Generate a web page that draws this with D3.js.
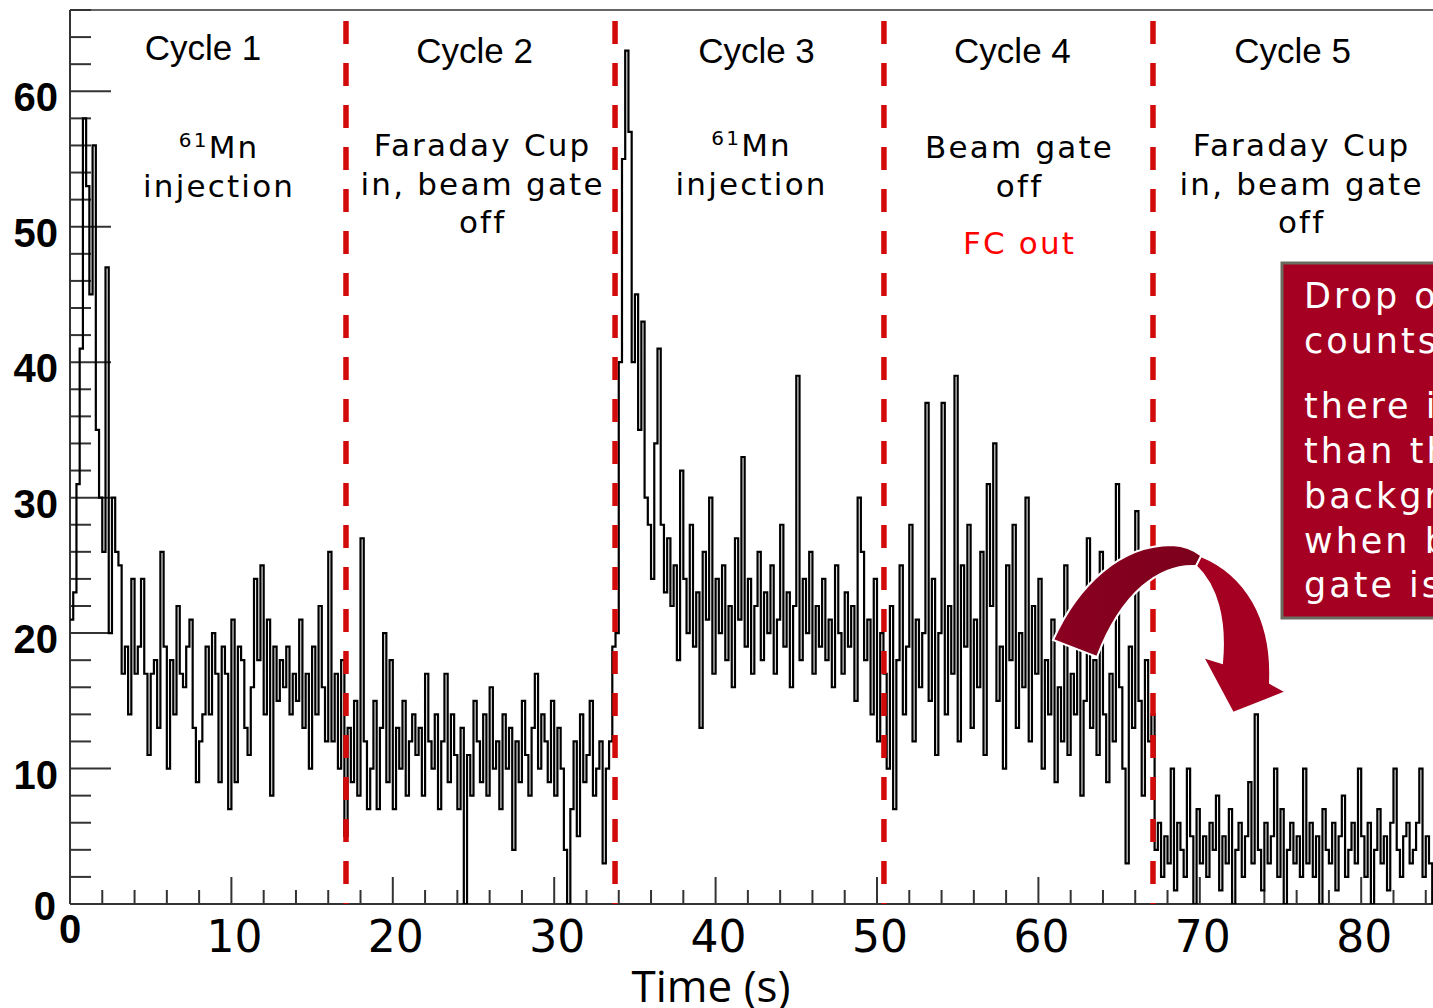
<!DOCTYPE html>
<html>
<head>
<meta charset="utf-8">
<script src="https://cdn.jsdelivr.net/npm/d3@7/dist/d3.min.js"></script>
<style>
  html, body { margin: 0; padding: 0; background: #ffffff; }
  svg { display: block; }
</style>
</head>
<body>
<svg id="chart" width="1433" height="1008"></svg>
<script>
// ---------------- DATA ----------------
const binWidth = 0.2; // seconds per histogram bin

// counts per 0.2 s bin, cycle by cycle
const cycle1Counts = [21, 23, 31, 41, 58, 53, 45, 56, 35, 30, 26, 47, 20, 30, 26, 25,
  17, 19, 14, 24, 17, 19, 24, 17, 11, 17, 18, 13, 26, 19, 10, 18,
  14, 22, 17, 16, 19, 21, 13, 9, 12, 14, 19, 14, 20, 17, 9, 19,
  17, 7, 21, 9, 19, 18, 13, 11, 16, 24, 18, 25, 14, 21, 8, 19,
  15, 18, 16, 19, 14, 17, 15, 21, 13, 17, 10, 19, 14, 22, 16, 12,
  26, 12, 17, 10, 18];
const cycle2Counts = [5, 13, 9, 15, 8, 27, 12, 7, 10, 15, 7, 13, 20, 9, 18, 7,
  13, 10, 15, 8, 12, 14, 11, 13, 8, 17, 12, 10, 14, 7, 12, 17,
  9, 14, 11, 7, 13, 0, 11, 8, 15, 12, 9, 14, 8, 16, 10, 12,
  7, 14, 10, 13, 4, 12, 9, 15, 11, 8, 13, 17, 10, 14, 12, 9,
  15, 8, 13, 10, 4, 0, 7, 12, 5, 14, 9, 11, 15, 8, 10, 12, 3, 10, 12, 19];
const cycle3Counts = [20, 40, 55, 63, 57, 40, 45, 35, 43, 30, 28, 24, 34, 41, 28, 23,
  27, 22, 25, 18, 32, 24, 20, 28, 19, 23, 13, 26, 21, 30, 17, 24,
  20, 25, 18, 22, 16, 27, 21, 33, 19, 24, 17, 22, 26, 18, 23, 20,
  25, 17, 21, 28, 19, 23, 16, 22, 39, 18, 24, 20, 26, 17, 22, 19,
  24, 18, 21, 16, 25, 20, 17, 23, 19, 22, 15, 30, 26, 18, 21, 14, 24, 12, 20, 17];
const cycle4Counts = [10, 22, 7, 18, 25, 14, 19, 28, 12, 21, 16, 20, 37, 15, 24, 11,
  20, 37, 14, 22, 17, 39, 12, 25, 19, 28, 13, 21, 16, 26, 11, 31,
  22, 34, 15, 19, 10, 25, 18, 28, 13, 20, 16, 30, 12, 22, 17, 24,
  10, 18, 14, 21, 9, 16, 12, 25, 11, 17, 14, 20, 8, 15, 27, 13,
  18, 11, 26, 14, 9, 17, 12, 31, 16, 10, 3, 19, 13, 29, 15, 8, 18, 12, 14];
const cycle5Counts = [4, 6, 2, 5, 3, 10, 1, 6, 4, 2, 10, 5, 0, 7, 3, 5,
  2, 6, 4, 8, 1, 5, 3, 7, 0, 4, 6, 2, 5, 9, 3, 14,
  4, 1, 6, 3, 5, 10, 2, 7, 0, 4, 6, 3, 5, 2, 10, 3,
  6, 2, 5, 0, 7, 4, 3, 6, 1, 5, 8, 2, 4, 6, 3, 10,
  5, 2, 6, 0, 4, 7, 3, 5, 1, 6, 10, 4, 2, 5, 6, 3,
  4, 6, 10, 2, 5, 3, 0, 6, 4];

const cycleBoundaries = [17.1, 33.77, 50.43, 67.1]; // seconds (red dashed lines)
const cycleEnd = 83.77;
const cycleTitles = ["Cycle 1", "Cycle 2", "Cycle 3", "Cycle 4", "Cycle 5"];
const cycleNotes = [
  [["61", "Mn"], ["", "injection"]],
  [["", "Faraday Cup"], ["", "in, beam gate"], ["", "off"]],
  [["61", "Mn"], ["", "injection"]],
  [["", "Beam gate"], ["", "off"]],
  [["", "Faraday Cup"], ["", "in, beam gate"], ["", "off"]]
];
const cycle4Extra = "FC out";
const xTickValues = [0, 10, 20, 30, 40, 50, 60, 70, 80];
const yTickValues = [0, 10, 20, 30, 40, 50, 60];
const xLabel = "Time (s)";
const boxLines = ["Drop of", "counts:", "", "there is less", "than the", "background", "when beam", "gate is off"];

// ---------------- LAYOUT ----------------
const svg = d3.select("#chart");
const W = 1433, H = 1008;
const plotLeft = 70, plotTop = 10, plotBottom = 904;
const pxPerSec = 16.14;
const xMax = 90, yMax = 66;

const x = d3.scaleLinear().domain([0, xMax]).range([plotLeft, plotLeft + xMax * pxPerSec]);
const y = d3.scaleLinear().domain([0, yMax]).range([plotBottom, plotTop]);

svg.append("rect").attr("width", W).attr("height", H).attr("fill", "#ffffff");

const defs = svg.append("defs");
defs.append("clipPath").attr("id", "plotClip")
  .append("rect").attr("x", plotLeft).attr("y", plotTop).attr("width", W - plotLeft + 5).attr("height", plotBottom - plotTop);

const axisColor = "#333333";

// frame
svg.append("line").attr("x1", plotLeft).attr("x2", W + 5).attr("y1", plotBottom).attr("y2", plotBottom)
  .attr("stroke", axisColor).attr("stroke-width", 2);
svg.append("line").attr("x1", plotLeft).attr("x2", W + 5).attr("y1", plotTop).attr("y2", plotTop)
  .attr("stroke", axisColor).attr("stroke-width", 1.5);
svg.append("line").attr("x1", plotLeft).attr("x2", plotLeft).attr("y1", plotTop).attr("y2", plotBottom)
  .attr("stroke", axisColor).attr("stroke-width", 2);

// y ticks (inside)
const yMinor = d3.range(0, yMax + 0.1, 2).filter(v => v % 10 !== 0);
svg.append("g").selectAll("line").data(yMinor).join("line")
  .attr("x1", plotLeft).attr("x2", plotLeft + 21).attr("y1", d => y(d)).attr("y2", d => y(d))
  .attr("stroke", axisColor).attr("stroke-width", 2);
svg.append("g").selectAll("line").data(yTickValues.filter(v => v > 0)).join("line")
  .attr("x1", plotLeft).attr("x2", plotLeft + 41).attr("y1", d => y(d)).attr("y2", d => y(d))
  .attr("stroke", axisColor).attr("stroke-width", 2);

// x ticks (inside)
const xMinor = d3.range(2, xMax, 2).filter(v => v % 10 !== 0);
svg.append("g").selectAll("line").data(xMinor).join("line")
  .attr("x1", d => x(d)).attr("x2", d => x(d)).attr("y1", plotBottom).attr("y2", plotBottom - 14)
  .attr("stroke", axisColor).attr("stroke-width", 2);
svg.append("g").selectAll("line").data(d3.range(10, xMax + 1, 10)).join("line")
  .attr("x1", d => x(d)).attr("x2", d => x(d)).attr("y1", plotBottom).attr("y2", plotBottom - 27)
  .attr("stroke", axisColor).attr("stroke-width", 2);

// y tick labels
svg.append("g").selectAll("text").data(yTickValues).join("text")
  .attr("x", d => d === 0 ? 56 : 58)
  .attr("y", d => d === 0 ? y(d) + 16 : y(d) + 20)
  .attr("text-anchor", "end")
  .attr("font-family", "'Liberation Sans', Arial, sans-serif")
  .attr("font-weight", "bold").attr("font-size", 40).attr("fill", "#000")
  .text(d => d);

// x tick labels
svg.append("g").selectAll("text").data(xTickValues).join("text")
  .attr("x", d => d === 0 ? x(0) : x(d) + 3)
  .attr("y", d => d === 0 ? 943 : 952)
  .attr("text-anchor", "middle")
  .attr("font-family", d => d === 0 ? "'Liberation Sans', Arial, sans-serif" : "'DejaVu Sans', sans-serif")
  .attr("font-weight", d => d === 0 ? "bold" : "normal")
  .attr("font-size", d => d === 0 ? 40 : 44)
  .attr("fill", "#000")
  .text(d => d);

// x axis title
svg.append("text").attr("x", 711).attr("y", 1002).attr("text-anchor", "middle")
  .attr("font-family", "'Open Sans', sans-serif").attr("font-size", 44).attr("fill", "#000")
  .text(xLabel);

// ---------------- HISTOGRAM ----------------
const counts = [].concat(cycle1Counts, cycle2Counts, cycle3Counts, cycle4Counts, cycle5Counts);
const pts = counts.map((c, i) => [i * binWidth, c]);
pts.push([counts.length * binWidth, counts[counts.length - 1]]);

const stepLine = d3.line().x(d => x(d[0])).y(d => y(d[1])).curve(d3.curveStepAfter);
svg.append("path").attr("d", stepLine(pts))
  .attr("clip-path", "url(#plotClip)")
  .attr("fill", "none").attr("stroke", "#000").attr("stroke-width", 2.2)
  .attr("stroke-linejoin", "miter");

// ---------------- CYCLE DIVIDERS ----------------
svg.append("g").selectAll("line").data(cycleBoundaries).join("line")
  .attr("x1", d => x(d)).attr("x2", d => x(d)).attr("y1", plotTop + 3).attr("y2", plotBottom)
  .attr("stroke", "#d20a0a").attr("stroke-width", 5.5)
  .attr("stroke-dasharray", "23,19").attr("stroke-dashoffset", -8);

// ---------------- CYCLE TEXTS ----------------
const edges = [0].concat(cycleBoundaries, [cycleEnd]);
const mids = cycleTitles.map((t, i) => (edges[i] + edges[i + 1]) / 2);
const titleShift = [-5, -6, 7, -6, 5];
const noteShift = [10, 1, 1, 0, 13];

svg.append("g").selectAll("text").data(cycleTitles).join("text")
  .attr("x", (d, i) => x(mids[i]) + titleShift[i])
  .attr("y", (d, i) => i === 0 ? 60 : 63)
  .attr("text-anchor", "middle")
  .attr("font-family", "'Liberation Sans', Arial, sans-serif").attr("font-size", 35).attr("fill", "#000")
  .text(d => d);

const noteFont = "'DejaVu Sans', Verdana, sans-serif";
const noteSize = 31, noteLS = 2.2;
cycleNotes.forEach((lines, i) => {
  const cx = x(mids[i]) + noteShift[i] + noteLS / 2;
  const base0 = (i === 0 || i === 3) ? 158 : 156;
  lines.forEach((ln, j) => {
    const t = svg.append("text").attr("x", cx).attr("y", base0 + j * 38.5)
      .attr("text-anchor", "middle").attr("font-family", noteFont).attr("font-size", noteSize)
      .attr("fill", "#000").style("letter-spacing", noteLS + "px");
    if (ln[0]) {
      t.append("tspan").attr("font-size", 20).attr("dy", -11).text(ln[0]);
      t.append("tspan").attr("dy", 11).text(ln[1]);
    } else {
      t.text(ln[1]);
    }
  });
});
svg.append("text").attr("x", x(mids[3]) + noteLS / 2).attr("y", 254)
  .attr("text-anchor", "middle").attr("font-family", noteFont).attr("font-size", noteSize)
  .attr("fill", "#ff0000").style("letter-spacing", noteLS + "px").text(cycle4Extra);

// ---------------- CALLOUT BOX ----------------
const box = svg.append("g");
box.append("rect").attr("x", 1282).attr("y", 263).attr("width", 200).attr("height", 355)
  .attr("fill", "#a50021").attr("stroke", "#6b6b5f").attr("stroke-width", 3);
const boxBase = [308, 353, null, 418, 463, 508, 553, 597];
boxLines.forEach((ln, i) => {
  if (!ln) return;
  box.append("text").attr("x", 1304).attr("y", boxBase[i])
    .attr("font-family", noteFont).attr("font-size", 35).attr("fill", "#ffffff")
    .style("letter-spacing", "3px").text(ln);
});

// ---------------- CURVED ARROW ----------------
const grad = defs.append("linearGradient").attr("id", "arrowGrad")
  .attr("x1", "0%").attr("x2", "100%").attr("y1", "0%").attr("y2", "0%");
grad.append("stop").attr("offset", "0%").attr("stop-color", "#8a0020");
grad.append("stop").attr("offset", "100%").attr("stop-color", "#7c001c");

svg.append("path")
  .attr("d", "M1053,640 C1078,585 1120,545 1172,545 Q1190,546 1202,556 L1196,566 C1160,564 1122,592 1097,657 Z")
  .attr("fill", "url(#arrowGrad)").attr("stroke", "#ffffff").attr("stroke-width", 2);
svg.append("path")
  .attr("d", "M1201,556 C1245,574 1273,618 1270,683 L1286,692 L1233,713 L1203,657 L1222,663 C1226,620 1217,586 1196,566 Z")
  .attr("fill", "#a50021").attr("stroke", "#ffffff").attr("stroke-width", 2);
</script>
</body>
</html>
